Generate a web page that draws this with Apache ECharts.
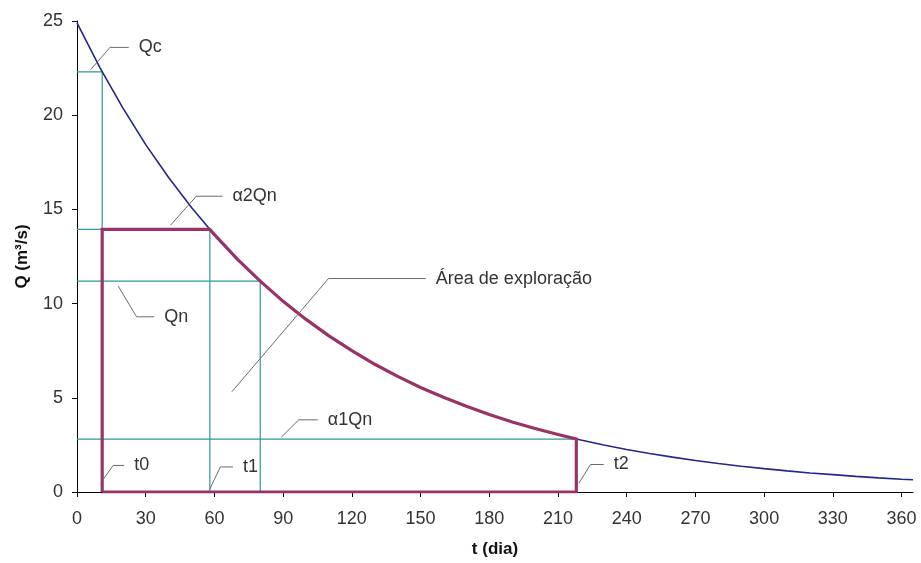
<!DOCTYPE html>
<html>
<head>
<meta charset="utf-8">
<script src="https://cdn.jsdelivr.net/npm/echarts@6/dist/echarts.min.js"></script>
<style>
html,body{margin:0;padding:0;background:#fff;}
#chart{width:921px;height:563px;}
</style>
</head>
<body>
<div id="chart"></div>
<script>
// ---- data ----
const days = [0,10,20,30,40,50,60,70,80,90,100,110,120,130,140,150,160,170,180,190,200,210,220,230,240,250,260,270,280,290,300,310,320,330,340,350,360,365];
const discharge = [24.9,22.53,20.39,18.44,16.69,15.10,13.66,12.36,11.19,10.12,9.16,8.29,7.50,6.78,6.14,5.55,5.03,4.55,4.11,3.72,3.37,3.05,2.76,2.49,2.26,2.04,1.85,1.67,1.51,1.37,1.24,1.12,1.01,0.92,0.83,0.75,0.68,0.65];
const xTicks = [0,30,60,90,120,150,180,210,240,270,300,330,360];
const yTicks = [0,5,10,15,20,25];

// characteristic times (days) and discharges (m3/s)
const t0 = 11, t1 = 58, tn = 80, t2 = 218;
const Qc = 22.3, a2Qn = 13.94, Qn = 11.19, a1Qn = 2.81;

// annotation labels and their leader-line anchor points (data coordinates)
const annoNames = ['Qc', '\u03B12Qn', 'Qn', 'Área de exploração', '\u03B11Qn', 't0', 't1', 't2'];
const annoLines = [
  [[6.0,22.42],[14.4,23.6],[22.6,23.6]],
  [[40.9,14.17],[52.1,15.7],[63.5,15.7]],
  [[18.0,10.93],[26.0,9.3],[33.7,9.3]],
  [[67.6,5.32],[109.8,11.33],[152.3,11.33]],
  [[89.2,2.91],[96.8,3.83],[105.1,3.83]],
  [[11.2,0.63],[15.8,1.41],[20.6,1.41]],
  [[57.9,0.14],[62.6,1.33],[68.1,1.33]],
  [[219.1,0.46],[224.2,1.46],[230.0,1.46]]
];

// ---- build series ----
const curve = days.map((d,i)=>[d, discharge[i]]);
const inside = curve.filter(p => p[0] > t1 && p[0] < t2);
const exploration = [[t0,0],[t0,a2Qn],[t1,a2Qn]].concat(inside, [[t2,a1Qn],[t2,0],[t0,0]]);

const teal = '#2f9898';
const guideSets = [
  [[0,Qc],[t0,Qc],[t0,0]],
  [[0,a2Qn],[t1,a2Qn],[t1,0]],
  [[0,Qn],[tn,Qn],[tn,0]],
  [[0,a1Qn],[t2,a1Qn]]
];

const FONT = 'Liberation Sans, Arial, sans-serif';
const series = [];
guideSets.forEach(g => series.push({
  type:'line', data:g, showSymbol:false, silent:true, z:2,
  lineStyle:{color:teal, width:1.2}
}));
series.push({
  type:'line', data:curve, showSymbol:false, silent:true, z:3,
  lineStyle:{color:'#25258c', width:1.6}
});
series.push({
  type:'line', data:exploration, showSymbol:false, silent:true, z:4,
  lineStyle:{color:'#993366', width:3.2, join:'miter'}
});
annoLines.forEach((pts,i) => series.push({
  type:'line', data:pts, showSymbol:false, silent:true, z:5,
  lineStyle:{color:'#6b6b6b', width:1},
  endLabel:{show:true, formatter:annoNames[i], color:'#333', fontSize:18, fontFamily:FONT, distance:10}
}));

const chart = echarts.init(document.getElementById('chart'), null, {renderer:'canvas'});
chart.setOption({
  animation:false,
  backgroundColor:'#fff',
  grid:{left:77, right:8, top:21, bottom:67, containLabel:false},
  xAxis:{
    type:'value', min:0, max:365,
    name:'t (dia)', nameLocation:'middle', nameGap:49,
    nameTextStyle:{fontWeight:'bold', fontSize:17, color:'#111', fontFamily:FONT},
    axisLine:{show:true, onZero:false, lineStyle:{color:'#000', width:1}},
    axisTick:{show:true, length:5, lineStyle:{color:'#000'}, customValues:xTicks},
    axisLabel:{color:'#333', fontSize:18, fontFamily:FONT, margin:18, customValues:xTicks},
    splitLine:{show:false}
  },
  yAxis:{
    type:'value', min:0, max:25, interval:5,
    name:'Q (m³/s)', nameLocation:'middle', nameGap:46, nameRotate:90,
    nameTextStyle:{fontWeight:'bold', fontSize:17, color:'#111', fontFamily:FONT},
    axisLine:{show:true, lineStyle:{color:'#000', width:1}},
    axisTick:{show:true, length:5, lineStyle:{color:'#000'}},
    axisLabel:{color:'#333', fontSize:18, fontFamily:FONT, margin:14},
    splitLine:{show:false}
  },
  series:series
});
</script>
</body>
</html>
